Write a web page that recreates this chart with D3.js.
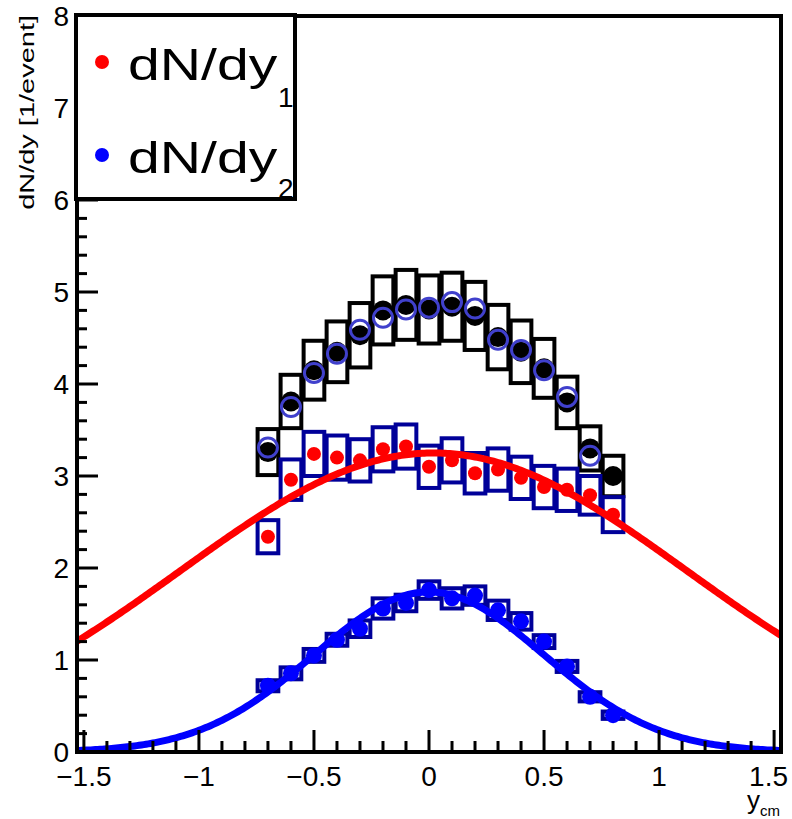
<!DOCTYPE html>
<html>
<head>
<meta charset="utf-8">
<script src="https://cdn.jsdelivr.net/npm/d3@7"></script>
<style>
  html, body { margin: 0; padding: 0; background: #fff; }
  svg { display: block; font-family: "Liberation Sans", Arial, sans-serif; }
</style>
</head>
<body>
<svg id="chart" width="792" height="819"></svg>
<script>
// rapidity bin centres
const yBins = [-0.7, -0.6, -0.5, -0.4, -0.3, -0.2, -0.1, 0.0, 0.1, 0.2, 0.3, 0.4, 0.5, 0.6, 0.7, 0.8];

// summed yield (black) with systematic half-heights
const sumVals = [3.26, 3.81, 4.15, 4.35, 4.53, 4.80, 4.86, 4.81, 4.84, 4.74, 4.51, 4.35, 4.17, 3.80, 3.30, 3.00];
const sumSyst = [0.25, 0.29, 0.32, 0.33, 0.35, 0.37, 0.38, 0.37, 0.37, 0.37, 0.35, 0.34, 0.32, 0.28, 0.24, 0.22];

// comparison sum (open circles), bins -0.7 .. 0.7
const cmpBins = [-0.7, -0.6, -0.5, -0.4, -0.3, -0.2, -0.1, 0.0, 0.1, 0.2, 0.3, 0.4, 0.5, 0.6, 0.7];
const cmpVals = [3.31, 3.75, 4.12, 4.33, 4.59, 4.72, 4.81, 4.83, 4.89, 4.82, 4.48, 4.37, 4.15, 3.86, 3.22];

// dN/dy_1 (red) with systematic half-heights
const redVals = [2.34, 2.96, 3.24, 3.20, 3.17, 3.29, 3.32, 3.10, 3.17, 3.03, 3.07, 2.98, 2.88, 2.85, 2.79, 2.58];
const redSyst = [0.18, 0.22, 0.24, 0.24, 0.23, 0.24, 0.24, 0.23, 0.24, 0.22, 0.23, 0.23, 0.23, 0.23, 0.21, 0.19];

// dN/dy_2 (blue) with systematic half-heights
const blueVals = [0.72, 0.855, 1.05, 1.22, 1.34, 1.56, 1.62, 1.76, 1.67, 1.70, 1.54, 1.42, 1.20, 0.93, 0.60, 0.40];
const blueSyst = [0.06, 0.065, 0.07, 0.065, 0.09, 0.11, 0.09, 0.095, 0.11, 0.10, 0.105, 0.09, 0.07, 0.06, 0.05, 0.04];

// Gaussian fit parameters: [amplitude, mean, sigma]
const redFit = [3.25, 0.02, 1.10];
const blueFit = [1.74, 0.0, 0.50];

// axis ticks
const xMajor = [-1.5, -1, -0.5, 0, 0.5, 1, 1.5];
const xLabels = ["\u22121.5", "\u22121", "\u22120.5", "0", "0.5", "1", "1.5"];
const yMajor = [0, 1, 2, 3, 4, 5, 6, 7, 8];

const svg = d3.select("#chart");
const L = 77, R = 781, T = 16, B = 752;

const x = d3.scaleLinear().domain([-1.53, 1.53]).range([L, R]);
const y = d3.scaleLinear().domain([0, 8]).range([B, T]);

svg.append("defs").append("clipPath").attr("id", "frameClip")
  .append("rect").attr("x", L).attr("y", T).attr("width", R - L).attr("height", B - T);

const plot = svg.append("g").attr("clip-path", "url(#frameClip)");

const boxHalf = 0.045;
function drawBoxes(vals, syst, color) {
  plot.append("g").selectAll("rect").data(yBins).join("rect")
    .attr("x", d => x(d - boxHalf))
    .attr("width", d => x(d + boxHalf) - x(d - boxHalf))
    .attr("y", (d, i) => y(vals[i] + syst[i]))
    .attr("height", (d, i) => y(vals[i] - syst[i]) - y(vals[i] + syst[i]))
    .attr("fill", "none").attr("stroke", color).attr("stroke-width", 4);
}
drawBoxes(sumVals, sumSyst, "#000000");
drawBoxes(redVals, redSyst, "#000099");
drawBoxes(blueVals, blueSyst, "#000099");

// summed yield points
plot.append("g").selectAll("circle").data(yBins).join("circle")
  .attr("cx", d => x(d)).attr("cy", (d, i) => y(sumVals[i])).attr("r", 10)
  .attr("fill", "#000");
plot.append("g").selectAll("circle").data(cmpBins).join("circle")
  .attr("cx", d => x(d)).attr("cy", (d, i) => y(cmpVals[i])).attr("r", 9.5)
  .attr("fill", "none").attr("stroke", "#4040cc").attr("stroke-width", 3);

plot.append("g").selectAll("circle").data(yBins).join("circle")
  .attr("cx", d => x(d)).attr("cy", (d, i) => y(redVals[i])).attr("r", 7)
  .attr("fill", "#ff0000");
plot.append("g").selectAll("circle").data(yBins).join("circle")
  .attr("cx", d => x(d)).attr("cy", (d, i) => y(blueVals[i])).attr("r", 8)
  .attr("fill", "#0000ff");

// fit curves
const gauss = (p, t) => p[0] * Math.exp(-((t - p[1]) ** 2) / (2 * p[2] * p[2]));
const grid = d3.range(-1.55, 1.5501, 0.01);
const line = d3.line().x(d => x(d[0])).y(d => y(d[1]));
plot.append("path").datum(grid.map(t => [t, gauss(redFit, t)]))
  .attr("d", line).attr("fill", "none").attr("stroke", "#ff0000").attr("stroke-width", 7);
plot.append("path").datum(grid.map(t => [t, gauss(blueFit, t)]))
  .attr("d", line).attr("fill", "none").attr("stroke", "#0000ff").attr("stroke-width", 7);

// axis ticks (left and bottom, inside the frame)
const axes = svg.append("g").attr("stroke", "#000").attr("stroke-width", 3);
const yMinor = d3.range(0, 8.001, 0.2).filter(v => Math.abs(v - Math.round(v)) > 1e-6);
axes.selectAll(".ymaj").data(yMajor).join("line")
  .attr("x1", L).attr("x2", L + 21).attr("y1", d => y(d)).attr("y2", d => y(d));
axes.selectAll(".ymin").data(yMinor).join("line")
  .attr("x1", L).attr("x2", L + 10).attr("y1", d => y(d)).attr("y2", d => y(d));
const xMinor = d3.range(-15, 16, 1).map(v => v / 10).filter(v => Math.abs(v * 2 - Math.round(v * 2)) > 1e-6);
axes.selectAll(".xmaj").data(xMajor).join("line")
  .attr("x1", d => x(d)).attr("x2", d => x(d)).attr("y1", B).attr("y2", B - 22);
axes.selectAll(".xmin").data(xMinor).join("line")
  .attr("x1", d => x(d)).attr("x2", d => x(d)).attr("y1", B).attr("y2", B - 11);

// frame
svg.append("rect").attr("x", L).attr("y", T).attr("width", R - L).attr("height", B - T)
  .attr("fill", "none").attr("stroke", "#000").attr("stroke-width", 4);

// tick labels
svg.append("g").selectAll("text").data(yMajor).join("text")
  .attr("x", 69).attr("y", d => y(d) + 10)
  .attr("text-anchor", "end").attr("font-size", 28).text(d => d);
svg.append("g").selectAll("text").data(xMajor).join("text")
  .attr("x", (d, i) => i === xMajor.length - 1 ? 788 : x(d))
  .attr("y", 786)
  .attr("text-anchor", (d, i) => i === xMajor.length - 1 ? "end" : "middle")
  .attr("font-size", 28).text((d, i) => xLabels[i]);

// axis titles
svg.append("text").attr("transform", "translate(33.5,15) rotate(-90) scale(1.38,1)")
  .attr("text-anchor", "end").attr("font-size", 21).text("dN/dy [1/event]");
const xt = svg.append("text").attr("x", 747).attr("y", 809).attr("font-size", 26);
xt.append("tspan").text("y");
xt.append("tspan").attr("x", 760).attr("y", 816).attr("font-size", 15).text("cm");

// legend
const leg = svg.append("g");
leg.append("rect").attr("x", 76).attr("y", 15).attr("width", 219).attr("height", 184)
  .attr("fill", "#fff").attr("stroke", "#000").attr("stroke-width", 4);
const entries = [
  { color: "#ff0000", sub: "1", cy: 62, base: 80, subBase: 107 },
  { color: "#0000ff", sub: "2", cy: 155, base: 173, subBase: 198 }
];
entries.forEach(e => {
  leg.append("circle").attr("cx", 102).attr("cy", e.cy).attr("r", 7).attr("fill", e.color);
  leg.append("text").attr("transform", `translate(128,${e.base}) scale(1.27,1)`)
    .attr("font-size", 45).text("dN/dy");
  leg.append("text").attr("x", 278).attr("y", e.subBase).attr("font-size", 28).text(e.sub);
});
</script>
</body>
</html>
